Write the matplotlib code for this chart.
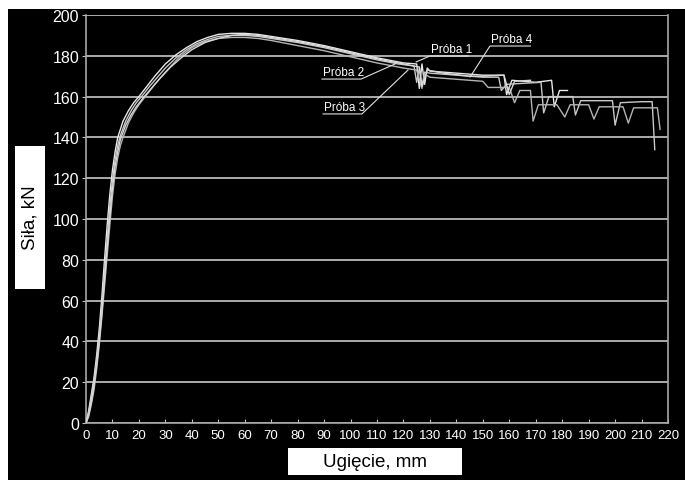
import matplotlib.pyplot as plt
from matplotlib.patches import Rectangle

plt.rcParams['font.family'] = ['Liberation Sans', 'DejaVu Sans']

# deflection [mm] and force [kN] for the four specimens
x1 = [0, 1, 2, 3, 4, 5, 6, 7, 8, 9, 10, 11, 12, 14, 16, 18, 20, 23, 26, 30, 34, 38,
      42, 46, 50, 55, 60, 65, 70, 80, 90, 100, 110, 120, 125, 126, 127, 128, 129, 130,
      140, 150, 158, 159, 161, 170, 176, 177, 179, 182]
y1 = [0, 6, 14, 22, 33, 46, 62, 80, 97, 112, 124, 133, 140, 148, 153, 157, 160, 165,
      170, 176, 180.5, 184, 187, 189, 190.5, 191, 191, 190.5, 189.5, 187.5, 185, 182,
      179, 176.5, 176, 164, 176, 166, 174, 172.5, 171.5, 170.5, 170.5, 161, 168, 167,
      168, 155, 163, 163]

x2 = [0, 1, 2, 3, 4, 5, 6, 7, 8, 9, 10, 11, 12, 13, 15, 17, 19, 21, 24, 27, 30, 34,
      38, 42, 46, 50, 55, 60, 65, 70, 80, 90, 100, 110, 118, 124, 125, 126, 127, 128,
      130, 140, 150, 156, 157, 159, 165, 172, 173, 175, 180, 184, 185, 187, 195, 199,
      200, 202, 210, 214, 215]
y2 = [0, 5, 12, 20, 30, 42, 57, 74, 90, 106, 119, 129, 136, 141, 148, 153, 157, 160,
      165, 169.5, 174, 179, 183, 186, 188, 189.5, 190, 190, 189.5, 188.5, 186.5, 184,
      181, 178, 176, 175, 167, 174, 165, 172, 171.5, 170.5, 169.5, 169.5, 163, 166,
      166.5, 167, 152, 160, 160, 160, 151, 158, 158, 158, 146, 157, 157.5, 157.5, 134]

x3 = [0, 1, 2, 3, 4, 5, 6, 7, 8, 9, 10, 11, 12, 13, 14, 16, 18, 20, 23, 26, 30, 35,
      40, 45, 50, 55, 60, 65, 70, 80, 90, 100, 110, 120, 125, 127, 128, 130, 140, 150,
      152, 160, 162, 164, 168, 169, 171, 178, 181, 183, 190, 192, 194, 203, 205, 207,
      212, 216, 217]
y3 = [0, 3, 9, 16, 26, 38, 52, 67, 82, 97, 111, 122, 130, 136, 140, 147, 152, 156,
      161, 166, 172, 179, 184, 187, 188.5, 189, 189, 188.5, 187.5, 185, 182.5, 179.5,
      176.5, 174, 173, 164, 171, 169.5, 168.5, 167.5, 164.5, 164.5, 157, 163, 163, 148,
      156, 156, 150, 156, 156, 149, 155, 155, 147, 154.5, 154.5, 154.5, 144]

x4 = [0, 1, 2, 3, 4, 5, 6, 7, 8, 9, 10, 11, 12, 13, 15, 17, 19, 22, 25, 28, 32, 36,
      40, 45, 50, 55, 60, 65, 70, 80, 90, 100, 110, 120, 126, 127, 129, 135, 145, 150,
      158, 160, 162, 168]
y4 = [0, 4, 10, 18, 28, 40, 54, 70, 86, 101, 115, 126, 133, 139, 146, 151, 155, 160,
      164.5, 169, 174.5, 179, 183, 186.5, 188.5, 190, 190.5, 190, 189, 187, 184.5,
      181.5, 178.5, 176, 174.5, 165, 173, 171.5, 170, 170, 170.5, 161, 167.5, 168]

series = [(x1, y1, '#e8e8e8'), (x2, y2, '#c8c8c8'), (x3, y3, '#b4b4b4'), (x4, y4, '#d8d8d8')]

fig = plt.figure(figsize=(6.85, 4.81), dpi=100, facecolor='white')
fig.patches.append(Rectangle((8 / 685, 0), 677 / 685, 471 / 481, transform=fig.transFigure,
                             facecolor='black', edgecolor='none', zorder=-5))

ax = fig.add_axes([86 / 685, 57 / 481, 582 / 685, 408 / 481])
ax.set_facecolor('black')
ax.set_zorder(2)

for xs, ys, c in series:
    ax.plot(xs, ys, color=c, lw=1.0, zorder=3)

ax.set_xlim(0, 220)
ax.set_ylim(0, 200)
ax.set_xticks(range(0, 221, 10))
ax.set_yticks(range(0, 201, 20))
ax.grid(axis='y', color='#c8c8c8', lw=1.2)
ax.tick_params(axis='x', colors='#c0c0c0', labelcolor='white', labelsize=9.5,
               direction='in', length=3, pad=4)
ax.tick_params(axis='y', colors='#c0c0c0', labelcolor='white', labelsize=11.5,
               direction='out', length=3, pad=2)
for side in ['left', 'bottom', 'right']:
    ax.spines[side].set_color('#a8a8a8')
    ax.spines[side].set_linewidth(1.2)
ax.spines['top'].set_visible(False)

# specimen labels with leader lines
labels = [
    ('Próba 1', [(144.4, 179.9), (130.0, 179.9), (124.8, 177.0)]),
    ('Próba 2', [(89.2, 168.6), (104.0, 168.6), (116.8, 176.0)]),
    ('Próba 3', [(89.6, 151.5), (104.3, 151.5), (121.7, 173.0)]),
    ('Próba 4', [(168.0, 184.8), (152.7, 184.8), (145.2, 169.6)]),
]
for txt, pts in labels:
    ax.plot([p[0] for p in pts], [p[1] for p in pts], color='#e0e0e0', lw=0.8, zorder=4)
    x0 = min(pts[0][0], pts[1][0])
    ax.text(x0 + 0.3, pts[0][1] + 0.6, txt, color='white', fontsize=8.5,
            ha='left', va='bottom', zorder=5)

# axis titles in white boxes
fig.patches.append(Rectangle((15 / 685, 1 - 290 / 481), 30 / 685, 143 / 481,
                             transform=fig.transFigure, facecolor='white',
                             edgecolor='none', zorder=1))
fig.text(30 / 685, 1 - 218 / 481, 'Siła, kN', rotation=90, ha='center', va='center',
         fontsize=13.5, color='black', zorder=2)
fig.patches.append(Rectangle((288 / 685, 1 - 476 / 481), 174 / 685, 27 / 481,
                             transform=fig.transFigure, facecolor='white',
                             edgecolor='none', zorder=1))
fig.text(375 / 685, 1 - 463 / 481, 'Ugięcie, mm', ha='center', va='center',
         fontsize=13.5, color='black', zorder=2)

fig.savefig('out.png', dpi=100, facecolor=fig.get_facecolor())
